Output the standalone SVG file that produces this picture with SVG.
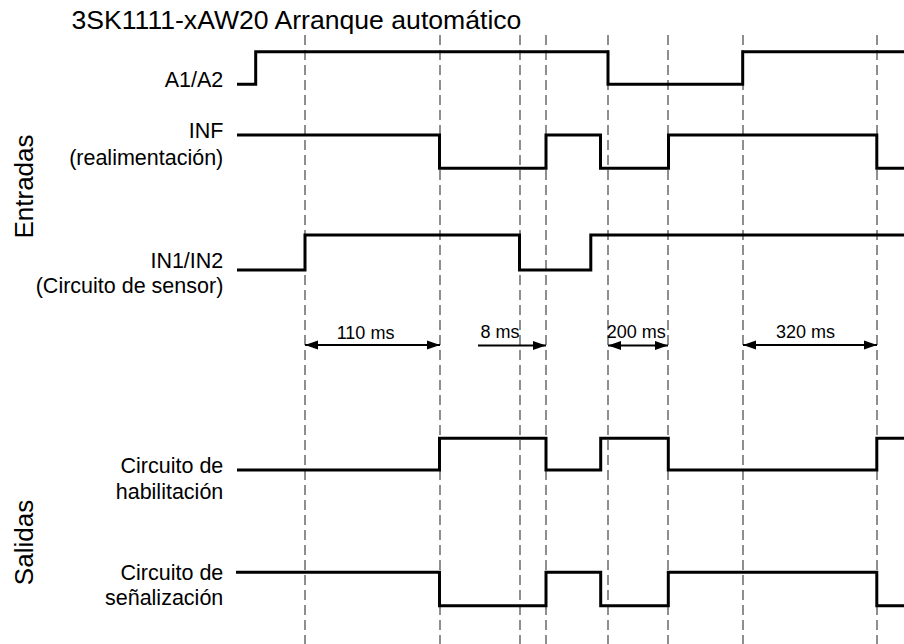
<svg xmlns="http://www.w3.org/2000/svg" width="904" height="644" viewBox="0 0 904 644">
<defs>
<style>
.t{font-family:"Liberation Sans",Arial,sans-serif;fill:#000;}
.lbl{text-anchor:end;font-size:21.5px;}
.sig{fill:none;stroke:#000;stroke-width:3;stroke-linejoin:miter;stroke-linecap:butt;}
.grid{stroke:#444;stroke-width:1.2;stroke-dasharray:10 5;fill:none;}
.arr{stroke:#000;stroke-width:2;fill:none;}
</style>
<marker id="ah" markerUnits="userSpaceOnUse" markerWidth="13" markerHeight="10" refX="13" refY="5" orient="auto-start-reverse">
<path d="M0,0.5 L13,5 L0,9.5 z" fill="#000"/>
</marker>
</defs>
<rect width="904" height="644" fill="#fff"/>
<text class="t" x="71.5" y="29" font-size="26.6">3SK1111-xAW20 Arranque automático</text>

<g id="grid">
<line class="grid" x1="305" y1="35" x2="305" y2="644"/>
<line class="grid" x1="440" y1="35" x2="440" y2="644"/>
<line class="grid" x1="520" y1="35" x2="520" y2="644"/>
<line class="grid" x1="546" y1="35" x2="546" y2="644"/>
<line class="grid" x1="608" y1="35" x2="608" y2="644"/>
<line class="grid" x1="668" y1="35" x2="668" y2="644"/>
<line class="grid" x1="743" y1="35" x2="743" y2="644"/>
<line class="grid" x1="877" y1="35" x2="877" y2="644"/>
</g>

<g id="group-labels">
<text class="t" font-size="26" text-anchor="middle" transform="translate(33,186.5) rotate(-90)">Entradas</text>
<text class="t" font-size="26" text-anchor="middle" transform="translate(33,542.5) rotate(-90)">Salidas</text>
</g>

<g id="sig-a1a2">
<text class="t lbl" x="223.3" y="87.3">A1/A2</text>
<path class="sig" d="M237,84.3 H255.7 V51.7 H608 V84.3 H742.7 V51.7 H904"/>
</g>

<g id="sig-inf">
<text class="t lbl" x="223.3" y="138.3">INF</text>
<text class="t lbl" x="223.3" y="165">(realimentación)</text>
<path class="sig" d="M237,135 H439.5 V168.3 H546 V135 H600.5 V168.3 H668.5 V135 H876.8 V168.3 H904"/>
</g>

<g id="sig-in1in2">
<text class="t lbl" x="223.3" y="268.3">IN1/IN2</text>
<text class="t lbl" x="223.3" y="293.3">(Circuito de sensor)</text>
<path class="sig" d="M237,270 H305 V235 H519.5 V270 H590.8 V235 H904"/>
</g>

<g id="sig-hab">
<text class="t lbl" x="223.3" y="473.3">Circuito de</text>
<text class="t lbl" x="223.3" y="499">habilitación</text>
<path class="sig" d="M237,470 H439.5 V438.3 H546 V470 H600.7 V438.3 H668.3 V470 H876.8 V438.3 H904"/>
</g>

<g id="sig-senal">
<text class="t lbl" x="223.3" y="580">Circuito de</text>
<text class="t lbl" x="223.3" y="605">señalización</text>
<path class="sig" d="M236,572.3 H439.5 V605.7 H546 V572.3 H600.7 V605.7 H668.3 V572.3 H876.8 V605.7 H904"/>
</g>

<g id="connectors">
<line class="arr" x1="305" y1="345" x2="440" y2="345" marker-start="url(#ah)" marker-end="url(#ah)"/>
<line class="arr" x1="478" y1="345.5" x2="546" y2="345.5" marker-end="url(#ah)"/>
<line class="arr" x1="608" y1="345.5" x2="668" y2="345.5" marker-start="url(#ah)" marker-end="url(#ah)"/>
<line class="arr" x1="743" y1="345" x2="877" y2="345" marker-start="url(#ah)" marker-end="url(#ah)"/>
</g>

<g id="dim-labels">
<text class="t" font-size="18" x="336.7" y="339">110 ms</text>
<text class="t" font-size="18" x="480.5" y="338">8 ms</text>
<text class="t" font-size="18" x="606.7" y="338">200 ms</text>
<text class="t" font-size="18" x="776" y="338.3">320 ms</text>
</g>
</svg>
